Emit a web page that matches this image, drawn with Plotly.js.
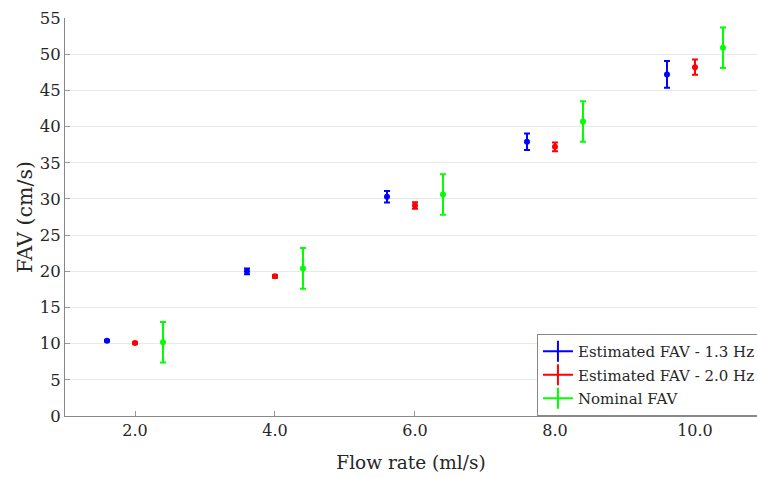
<!DOCTYPE html>
<html><head><meta charset="utf-8">
<script src="https://cdn.plot.ly/plotly-3.0.1.min.js"></script>
<style>body{margin:0;}#chart{width:757px;height:477px;overflow:hidden;}</style>
</head><body><div id="chart"></div>
<script>
const flowRates = [2, 4, 6, 8, 10];
const offsets = {est13: -0.4, est20: 0, nominal: 0.4};
const est13 = [10.4, 20.0, 30.3, 37.9, 47.2];
const est13Err = [0.1, 0.4, 0.8, 1.15, 1.85];
const est20 = [10.1, 19.3, 29.1, 37.2, 48.2];
const est20Err = [0.1, 0.2, 0.45, 0.6, 1.05];
const nominal = [10.2, 20.4, 30.6, 40.7, 50.9];
const nominalErr = [2.8, 2.8, 2.8, 2.8, 2.8];
const xTickVals = [2, 4, 6, 8, 10];
const xTickText = ['2.0', '4.0', '6.0', '8.0', '10.0'];
const names = ['Estimated FAV - 1.3 Hz', 'Estimated FAV - 2.0 Hz', 'Nominal FAV'];
const colors = ['#0000ff', '#ff0000', '#00ff00'];

function series(vals, errs, off, color) {
  return {
    type: 'scatter', mode: 'markers',
    x: flowRates.map(v => v + off), y: vals,
    error_y: {type: 'data', array: errs, visible: true, color: color, thickness: 2, width: 3},
    marker: {color: color, size: 6},
    showlegend: false, hoverinfo: 'x+y'
  };
}
function legendItem(name, color, i) {
  return {
    type: 'scatter', mode: 'lines+markers', x: [null], y: [null], name: name,
    legendgroup: 'g' + i,
    line: {color: color, width: 2},
    marker: {symbol: 'line-ns-open', size: 15, line: {color: color, width: 2}, color: color}
  };
}
const data = [
  series(est13, est13Err, offsets.est13, colors[0]),
  series(est20, est20Err, offsets.est20, colors[1]),
  series(nominal, nominalErr, offsets.nominal, colors[2]),
  legendItem(names[0], colors[0], 0),
  legendItem(names[1], colors[1], 1),
  legendItem(names[2], colors[2], 2)
];
const font = 'DejaVu Serif, serif';
const layout = {
  width: 757, height: 477,
  margin: {l: 65, r: 0, t: 18, b: 61, autoexpand: false},
  paper_bgcolor: '#ffffff', plot_bgcolor: '#ffffff',
  font: {family: font, size: 16, color: '#262626'},
  xaxis: {
    range: [1, 10.886], tickvals: xTickVals, ticktext: xTickText,
    ticks: 'inside', ticklen: 5, tickcolor: '#999', tickwidth: 1,
    showline: true, linecolor: '#888', linewidth: 1,
    showgrid: false, zeroline: false, automargin: false,
    tickfont: {family: font, size: 16, color: '#262626'},
    title: {text: 'Flow rate (ml/s)', font: {family: font, size: 18.5, color: '#262626'}, standoff: 16}
  },
  yaxis: {
    range: [0, 55], dtick: 5, tick0: 0,
    ticks: 'inside', ticklen: 5, tickcolor: '#999', tickwidth: 1,
    showline: true, linecolor: '#888', linewidth: 1,
    showgrid: true, gridcolor: '#e8e8e8', gridwidth: 1, zeroline: false, automargin: false,
    tickfont: {family: font, size: 16.5, color: '#262626'},
    title: {text: 'FAV (cm/s)', font: {family: font, size: 20.5, color: '#262626'}, standoff: 1}
  },
  legend: {
    x: 0.682, xanchor: 'left', y: 0.206, yanchor: 'top',
    bgcolor: '#ffffff', bordercolor: '#888', borderwidth: 1,
    font: {family: font, size: 15, color: '#262626'},
    tracegroupgap: 1, itemwidth: 30
  }
};
Plotly.newPlot('chart', data, layout, {displayModeBar: false, staticPlot: true});
</script></body></html>
